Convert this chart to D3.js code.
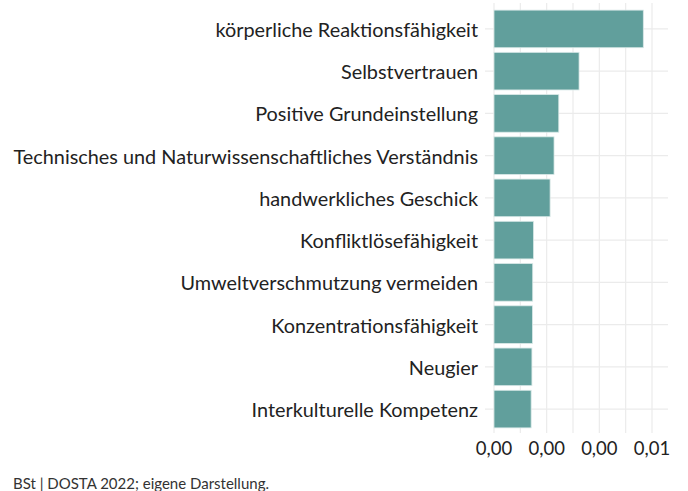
<!DOCTYPE html>
<html>
<head>
<meta charset="utf-8">
<script src="https://cdn.jsdelivr.net/npm/d3@7"></script>
<style>
  body { margin: 0; background: #fff; }
  text { font-family: Lato, "Open Sans", sans-serif; }
</style>
</head>
<body>
<script>
// categories top to bottom and their shares
var categories = [
    "körperliche Reaktionsfähigkeit",
    "Selbstvertrauen",
    "Positive Grundeinstellung",
    "Technisches und Naturwissenschaftliches Verständnis",
    "handwerkliches Geschick",
    "Konfliktlösefähigkeit",
    "Umweltverschmutzung vermeiden",
    "Konzentrationsfähigkeit",
    "Neugier",
    "Interkulturelle Kompetenz"
];
var values = [0.00567, 0.00323, 0.00246, 0.00228, 0.00213, 0.00150, 0.00147, 0.00146, 0.00144, 0.00141];
var xTicks = [0, 0.002, 0.004, 0.006];
var caption = "BSt | DOSTA 2022; eigene Darstellung.";

var width = 688, height = 491;
var panel = { left: 485, right: 668, top: 3, bottom: 433 };

var svg = d3.select("body")
    .append("svg")
    .attr("width", width)
    .attr("height", height);

var x = d3.scaleLinear()
    .domain([0, 0.006])
    .range([494, 652]);

var y = d3.scaleBand()
    .domain(categories)
    .range([8, 430])
    .paddingInner(0.11)
    .paddingOuter(0.05);

// vertical grid lines (major + minor)
var minor = xTicks.slice(0, -1).map(function (d) { return d + 0.001; });
svg.append("g")
    .selectAll("line")
    .data(xTicks.concat(minor))
    .enter().append("line")
    .attr("x1", function (d) { return x(d); })
    .attr("x2", function (d) { return x(d); })
    .attr("y1", panel.top)
    .attr("y2", panel.bottom)
    .attr("stroke", "#ebebeb")
    .attr("stroke-width", 1.2);

// horizontal grid lines
svg.append("g")
    .selectAll("line")
    .data(categories)
    .enter().append("line")
    .attr("x1", panel.left)
    .attr("x2", panel.right)
    .attr("y1", function (d) { return y(d) + y.bandwidth() / 2; })
    .attr("y2", function (d) { return y(d) + y.bandwidth() / 2; })
    .attr("stroke", "#ebebeb")
    .attr("stroke-width", 1.2);

// bars
svg.append("g")
    .selectAll("rect")
    .data(values)
    .enter().append("rect")
    .attr("x", x(0))
    .attr("y", function (d, i) { return y(categories[i]); })
    .attr("width", function (d) { return x(d) - x(0); })
    .attr("height", y.bandwidth())
    .attr("fill", "#619f9c")
    .attr("stroke", "#d8e8e7")
    .attr("stroke-width", 0.8);

// category labels
svg.append("g")
    .selectAll("text")
    .data(categories)
    .enter().append("text")
    .attr("x", 478)
    .attr("y", function (d) { return y(d) + y.bandwidth() / 2; })
    .attr("dy", "0.4em")
    .attr("text-anchor", "end")
    .attr("fill", "#222")
    .style("font-size", "19.85px")
    .text(function (d) { return d; });

// x tick labels
var fmt = d3.formatLocale({ decimal: ",", thousands: ".", grouping: [3], currency: ["", " €"] }).format(".2f");
svg.append("g")
    .selectAll("text")
    .data(xTicks)
    .enter().append("text")
    .attr("x", function (d) { return x(d); })
    .attr("y", 455)
    .attr("text-anchor", "middle")
    .attr("fill", "#222")
    .style("font-size", "18.5px")
    .text(function (d) { return fmt(d); });

// source caption
svg.append("text")
    .attr("x", 13)
    .attr("y", 489)
    .attr("fill", "#333")
    .style("font-size", "15px")
    .text(caption);
</script>
</body>
</html>
